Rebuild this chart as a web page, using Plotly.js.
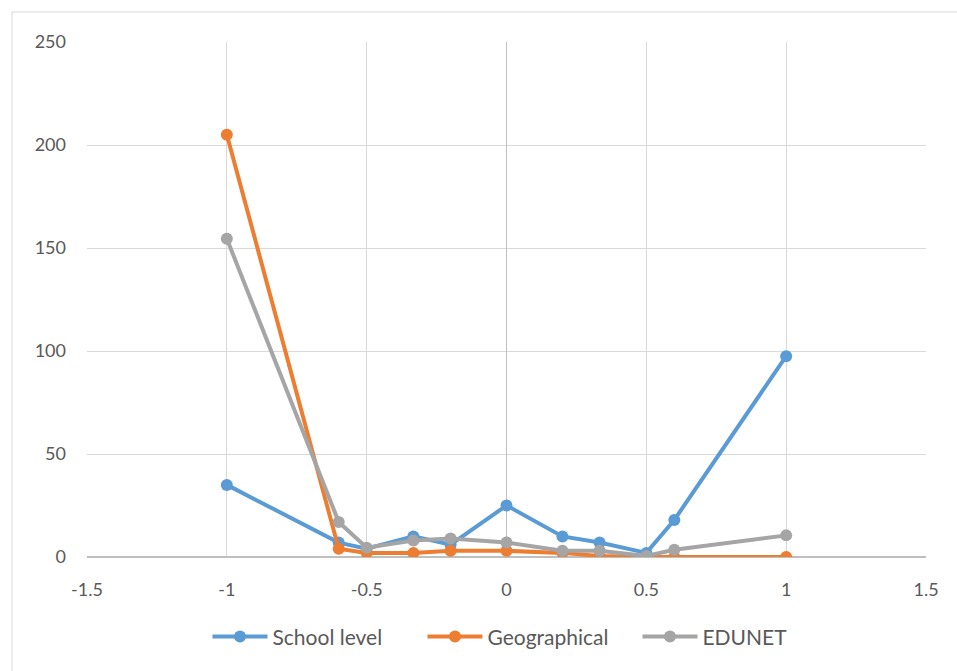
<!DOCTYPE html>
<html><head><meta charset="utf-8">
<script src="https://cdn.plot.ly/plotly-3.0.1.min.js"></script>
<style>body{margin:0;background:#fff}#c{width:957px;height:671px}</style>
</head><body><div id="c"></div>
<script>
const xVals = [-1, -0.6, -0.5, -0.333, -0.2, 0, 0.2, 0.333, 0.5, 0.6, 1];
const schoolLevel = [35, 7, 4, 10, 6, 25, 10, 7, 2, 18, 97.5];
const geographical = [205, 4, 2, 2, 3, 3, 2, 0.5, 0, 0, 0];
const edunet = [154.5, 17, 4.5, 8, 9, 7, 3, 3, 0.5, 3.5, 10.5];
const seriesNames = ["School level", "Geographical", "EDUNET"];
const colors = ["#5b9bd5", "#ed7d31", "#a5a5a5"];
const xTicks = [-1.5, -1, -0.5, 0, 0.5, 1, 1.5];
const yTicks = [0, 50, 100, 150, 200, 250];

const data = [schoolLevel, geographical, edunet].map((ys, i) => ({
  x: xVals, y: ys, name: seriesNames[i], type: "scatter", mode: "lines+markers",
  line: {color: colors[i], width: 4},
  marker: {color: colors[i], size: 12}
}));

const layout = {
  width: 957, height: 671,
  margin: {l: 87, r: 31, t: 42, b: 114},
  paper_bgcolor: "#fff", plot_bgcolor: "#fff",
  font: {family: "Lato, 'Open Sans', sans-serif", size: 18, color: "#595959"},
  showlegend: true,
  legend: {orientation: "h", x: 0.528, xanchor: "center", y: -0.155, yanchor: "middle",
           font: {size: 21, color: "#595959"}, itemwidth: 55, entrywidth: 145},
  xaxis: {range: [-1.5, 1.5], tickvals: xTicks, ticktext: xTicks.map(String),
          showgrid: true, gridcolor: "#d9d9d9", gridwidth: 1,
          zeroline: true, zerolinecolor: "#bfbfbf", zerolinewidth: 1.5,
          showline: false, ticks: "", ticklabelstandoff: 20, fixedrange: true},
  yaxis: {range: [0, 250], tickvals: yTicks, ticktext: yTicks.map(String),
          showgrid: true, gridcolor: "#d9d9d9", gridwidth: 1,
          zeroline: true, zerolinecolor: "#bfbfbf", zerolinewidth: 1.5,
          showline: false, ticks: "", ticklabelstandoff: 20, fixedrange: true},
  shapes: [{type: "rect", xref: "paper", yref: "paper",
            x0: -0.0894, x1: 1.2, y0: -0.4, y1: 1.0583,
            line: {color: "#d9d9d9", width: 1}, fillcolor: "rgba(0,0,0,0)", layer: "below"}]
};
Plotly.newPlot("c", data, layout, {displayModeBar: false, staticPlot: true});
</script></body></html>
